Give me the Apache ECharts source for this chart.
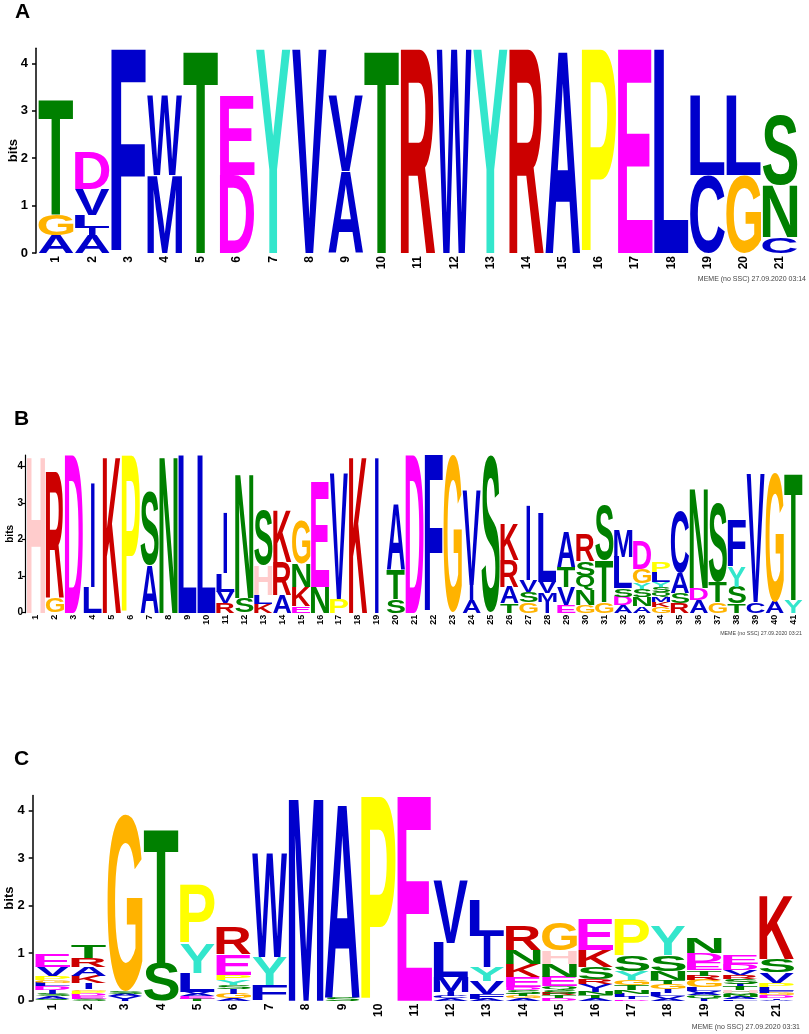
<!DOCTYPE html>
<html><head><meta charset="utf-8">
<script src="https://cdn.jsdelivr.net/npm/echarts@6/dist/echarts.min.js"></script>
<style>html,body{margin:0;padding:0;background:#fff}#c{width:809px;height:1034px}</style>
</head><body><div id="c"></div>
<script>
// ---------------- DATA ----------------
const positionsA = ['1','2','3','4','5','6','7','8','9','10','11','12','13','14','15','16','17','18','19','20','21'];
const positionsB = ['1','2','3','4','5','6','7','8','9','10','11','12','13','14','15','16','17','18','19','20','21','22','23','24','25','26','27','28','29','30','31','32','33','34','35','36','37','38','39','40','41'];
const positionsC = ['1','2','3','4','5','6','7','8','9','10','11','12','13','14','15','16','17','18','19','20','21'];
const bitTicks = [0, 1, 2, 3, 4];
const bitsMax = 4.32;

// each column: letters bottom -> top with their heights in bits
const logoA = [
  [['A',0.38],['G',0.44],['T',2.43]],
  [['A',0.37],['I',0.16],['L',0.28],['V',0.55],['D',0.79]],
  [['F',4.3]],
  [['M',1.65],['W',1.67]],
  [['T',4.3]],
  [['D',1.65],['E',1.67]],
  [['Y',4.3]],
  [['V',4.3]],
  [['A',1.72],['V',1.60]],
  [['T',4.3]],
  [['R',4.3]],
  [['W',4.3]],
  [['Y',4.3]],
  [['R',4.3]],
  [['A',4.3]],
  [['P',4.3]],
  [['E',4.3]],
  [['L',4.3]],
  [['C',1.65],['L',1.67]],
  [['G',1.65],['L',1.67]],
  [['C',0.34],['N',1.10],['S',1.48]]
];
const logoB = [
  [['H',4.3]],
  [['G',0.39],['R',3.43]],
  [['D',4.3]],
  [['L',0.71],['I',2.88]],
  [['K',4.3]],
  [['P',4.3]],
  [['A',1.31],['S',2.02]],
  [['N',4.3]],
  [['L',4.3]],
  [['L',4.3]],
  [['R',0.26],['V',0.32],['L',0.5],['I',1.66]],
  [['S',0.39],['N',3.43]],
  [['K',0.24],['L',0.24],['H',0.83],['S',1.5]],
  [['A',0.48],['R',0.92],['K',1.41]],
  [['E',0.18],['K',0.53],['N',0.64],['G',1.19]],
  [['N',0.71],['E',2.88]],
  [['P',0.37],['V',3.45]],
  [['K',4.3]],
  [['I',4.3]],
  [['S',0.37],['T',0.8],['A',1.83]],
  [['D',4.3]],
  [['F',4.3]],
  [['G',4.3]],
  [['A',0.35],['I',0.41],['V',2.6]],
  [['S',4.3]],
  [['T',0.26],['A',0.45],['R',0.73],['K',1.01]],
  [['G',0.3],['S',0.28],['V',0.31],['I',2.06]],
  [['I',0.3],['M',0.25],['V',0.3],['L',1.89]],
  [['E',0.22],['V',0.48],['T',0.55],['A',0.97]],
  [['G',0.21],['N',0.41],['Q',0.39],['S',0.40],['R',0.72]],
  [['G',0.3],['T',1.14],['S',1.5]],
  [['A',0.21],['D',0.23],['S',0.23],['L',0.86],['M',0.73]],
  [['A',0.18],['N',0.26],['S',0.2],['Y',0.16],['G',0.41],['D',0.78]],
  [['G',0.16],['K',0.13],['M',0.14],['Q',0.13],['S',0.14],['Y',0.14],['L',0.27],['P',0.29]],
  [['R',0.26],['S',0.27],['A',0.55],['C',1.69]],
  [['A',0.35],['D',0.32],['N',2.74]],
  [['G',0.3],['T',0.55],['S',2.15]],
  [['T',0.26],['S',0.45],['Y',0.55],['F',1.28]],
  [['C',0.3],['V',3.52]],
  [['A',0.3],['G',3.52]],
  [['Y',0.35],['T',3.47]]
];
const logoC = [
  [['Q',0.04],['A',0.06],['S',0.05],['I',0.07],['D',0.08],['L',0.08],['G',0.06],['P',0.07],['V',0.21],['E',0.28]],
  [['S',0.04],['E',0.06],['D',0.05],['P',0.06],['G',0.03],['I',0.13],['K',0.15],['A',0.18],['R',0.19],['T',0.28]],
  [['I',0.04],['V',0.06],['A',0.05],['S',0.04],['G',3.72]],
  [['S',0.79],['T',2.84]],
  [['T',0.04],['E',0.05],['A',0.05],['V',0.05],['L',0.4],['Y',0.62],['P',1.23]],
  [['A',0.05],['G',0.1],['I',0.1],['S',0.08],['Y',0.1],['P',0.12],['E',0.44],['R',0.55]],
  [['F',0.33],['Y',0.6],['W',2.19]],
  [['M',4.3]],
  [['S',0.07],['A',4.1]],
  [['P',4.3]],
  [['E',4.3]],
  [['A',0.05],['C',0.05],['I',0.08],['M',0.32],['L',0.72],['V',1.33]],
  [['A',0.04],['F',0.1],['V',0.27],['Y',0.29],['I',0.66],['L',0.76]],
  [['A',0.05],['G',0.04],['T',0.06],['S',0.07],['D',0.06],['E',0.22],['K',0.27],['N',0.3],['R',0.52]],
  [['D',0.06],['T',0.05],['R',0.04],['S',0.09],['Q',0.06],['E',0.2],['N',0.28],['H',0.28],['G',0.57]],
  [['A',0.05],['T',0.06],['N',0.08],['I',0.07],['V',0.09],['R',0.1],['S',0.26],['K',0.35],['E',0.65]],
  [['D',0.03],['I',0.04],['L',0.08],['N',0.07],['T',0.1],['G',0.12],['Y',0.19],['S',0.32],['P',0.75]],
  [['A',0.04],['V',0.05],['L',0.08],['I',0.08],['G',0.1],['T',0.09],['N',0.19],['S',0.34],['Y',0.62]],
  [['I',0.05],['Q',0.06],['A',0.04],['V',0.06],['L',0.07],['G',0.15],['R',0.1],['T',0.11],['E',0.17],['D',0.19],['N',0.33]],
  [['L',0.03],['A',0.04],['N',0.05],['Q',0.05],['H',0.06],['T',0.07],['I',0.06],['S',0.1],['R',0.08],['V',0.1],['D',0.14],['E',0.18]],
  [['A',0.02],['I',0.03],['D',0.06],['G',0.06],['F',0.04],['L',0.08],['P',0.09],['V',0.22],['S',0.27],['K',1.35]]
];
const panelLabels = ['A', 'B', 'C'];
const footers = ['MEME (no SSC) 27.09.2020 03:14', 'MEME (no SSC) 27.09.2020 03:21', 'MEME (no SSC) 27.09.2020 03:31'];

// ---------------- STYLE ----------------
const letterColors = {
  A:'#0000CC', C:'#0000CC', F:'#0000CC', I:'#0000CC', L:'#0000CC', M:'#0000CC', V:'#0000CC', W:'#0000CC',
  N:'#008000', Q:'#008000', S:'#008000', T:'#008000',
  D:'#FF00FF', E:'#FF00FF',
  K:'#CC0000', R:'#CC0000',
  H:'#FFCCCC', G:'#FFB300', P:'#FFFF00', Y:'#33E6CC'
};
const FAM = '"Liberation Sans", Arial, Helvetica, sans-serif';
const GLYPH_FONT = 'bold 100px ' + FAM;

const metricCache = {};
const mctx = document.createElement('canvas').getContext('2d');
function glyph(ch) {
  if (metricCache[ch]) return metricCache[ch];
  mctx.font = GLYPH_FONT;
  mctx.textBaseline = 'middle';
  mctx.textAlign = 'left';
  const m = mctx.measureText(ch);
  return (metricCache[ch] = {
    l: m.actualBoundingBoxLeft, r: m.actualBoundingBoxRight,
    a: m.actualBoundingBoxAscent, d: m.actualBoundingBoxDescent
  });
}

function buildSeries(logo, idx) {
  const letters = [];
  const data = [];
  logo.forEach((col, i) => {
    let acc = 0;
    col.forEach(([ch, h]) => {
      data.push([i, acc, acc + h]);
      letters.push(ch);
      acc += h;
    });
  });
  return {
    type: 'custom',
    coordinateSystem: 'cartesian2d',
    xAxisIndex: idx, yAxisIndex: idx,
    clip: false,
    encode: { x: 0, y: [1, 2] },
    data: data,
    renderItem: function (params, api) {
      const i = api.value(0), y0 = api.value(1), y1 = api.value(2);
      const ch = letters[params.dataIndex];
      const pb = api.coord([i, y0]);
      const pt = api.coord([i, y1]);
      const bw = api.size([1, 0])[0];
      const H = pb[1] - pt[1];
      if (H < 0.2) return null;
      const g = glyph(ch);
      let W = bw * 0.965;
      if (ch === 'I') W = bw * 0.2;
      const left = pb[0] - W / 2;
      const sx = W / (g.l + g.r);
      const sy = H / (g.a + g.d);
      return {
        type: 'text',
        x: left + sx * g.l,
        y: pt[1] + sy * g.a,
        scaleX: sx, scaleY: sy,
        style: { text: ch, font: GLYPH_FONT, fill: letterColors[ch], align: 'left', verticalAlign: 'middle' }
      };
    }
  };
}

const panels = [
  { logo: logoA, pos: positionsA, grid: { left: 38, right: 11, top: 48.2, height: 204.8 }, off: 2, xFont: 12, yFont: 13, nameFont: 13, nameGap: 16, tick: 4, lw: 1.5, xMargin: 3, yMargin: 8 },
  { logo: logoB, pos: positionsB, grid: { left: 26.5, right: 6, top: 455, height: 157.7 }, off: 1.5, xFont: 9, yFont: 10, nameFont: 10, nameGap: 10, tick: 3, lw: 1.2, xMargin: 2, yMargin: 2 },
  { logo: logoC, pos: positionsC, grid: { left: 34.5, right: 14.3, top: 795.5, height: 205.2 }, off: 1.8, xFont: 12, yFont: 13, nameFont: 13, nameGap: 16.5, tick: 4, lw: 1.5, xMargin: 3, yMargin: 8 }
];

const option = {
  backgroundColor: '#fff',
  animation: false,
  grid: panels.map(p => Object.assign({ containLabel: false, outerBoundsMode: 'none' }, p.grid)),
  xAxis: panels.map((p, k) => ({
    gridIndex: k, type: 'category', data: p.pos,
    axisLine: { show: false }, axisTick: { show: false }, splitLine: { show: false },
    axisLabel: { rotate: 90, interval: 0, fontWeight: 'bold', fontSize: p.xFont, fontFamily: FAM, color: '#000', margin: p.xMargin }
  })),
  yAxis: panels.map((p, k) => ({
    gridIndex: k, type: 'value', min: 0, max: bitsMax, offset: p.off,
    axisLine: { show: true, lineStyle: { color: '#000', width: p.lw } },
    axisTick: { show: true, length: p.tick, customValues: bitTicks, lineStyle: { color: '#000', width: p.lw } },
    axisLabel: { customValues: bitTicks, fontWeight: 'bold', fontSize: p.yFont, fontFamily: FAM, color: '#000', margin: p.yMargin },
    splitLine: { show: false },
    name: 'bits', nameLocation: 'middle', nameGap: p.nameGap, nameMoveOverlap: false,
    nameTextStyle: { fontWeight: 'bold', fontSize: p.nameFont, fontFamily: FAM, color: '#000' }
  })),
  series: panels.map((p, k) => buildSeries(p.logo, k)),
  graphic: [
    { type: 'text', left: 15, top: 2, style: { text: panelLabels[0], font: 'bold 21px ' + FAM, fill: '#000' } },
    { type: 'text', left: 14, top: 409, style: { text: panelLabels[1], font: 'bold 21px ' + FAM, fill: '#000' } },
    { type: 'text', left: 14, top: 749, style: { text: panelLabels[2], font: 'bold 21px ' + FAM, fill: '#000' } },
    { type: 'text', right: 3, top: 276, style: { text: footers[0], font: '7px ' + FAM, fill: '#444' } },
    { type: 'text', right: 7, top: 631, style: { text: footers[1], font: '5.3px ' + FAM, fill: '#444' } },
    { type: 'text', right: 9, top: 1024, style: { text: footers[2], font: '7px ' + FAM, fill: '#444' } }
  ]
};

const chart = echarts.init(document.getElementById('c'), null, { renderer: 'canvas' });
chart.setOption(option);
</script>
</body></html>
